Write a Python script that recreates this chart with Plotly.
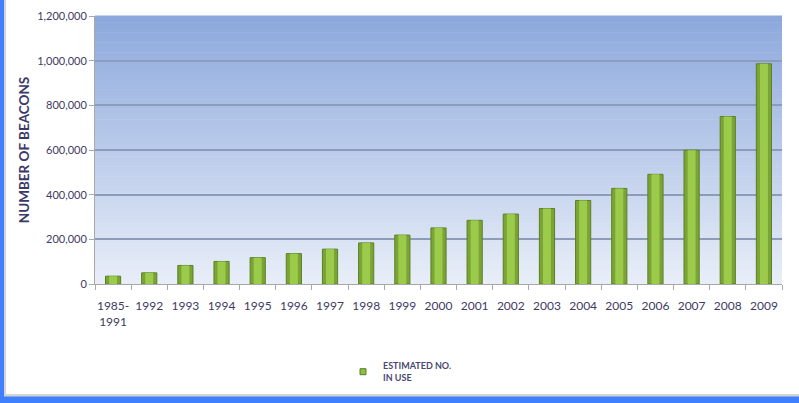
import plotly.graph_objects as go

categories = ["1985-<br>1991", "1992", "1993", "1994", "1995", "1996", "1997", "1998", "1999",
              "2000", "2001", "2002", "2003", "2004", "2005", "2006", "2007", "2008", "2009"]
beacons = [35000, 50000, 83000, 101000, 118000, 136000, 156000, 184000, 219000,
           251000, 285000, 313000, 338000, 374000, 428000, 491000, 599000, 750000, 986000]
y_ticks = [0, 200000, 400000, 600000, 800000, 1000000, 1200000]
y_tick_text = ["0", "200,000", "400,000", "600,000", "800,000", "1,000,000", "1,200,000"]
series_name = "<b>ESTIMATED NO.<br>IN USE</b>"

W, H = 799, 403
ML, MR, MT, MB = 95, 17, 16, 119
pw, ph = W - ML - MR, H - MT - MB

fig = go.Figure()
fig.add_trace(go.Bar(x=categories, y=beacons, width=0.42,
                     marker=dict(color="#7aa535", line=dict(color="#5c7f27", width=1)),
                     showlegend=False, hoverinfo="x+y"))
fig.add_trace(go.Bar(x=categories, y=beacons, width=0.22,
                     marker=dict(color="#9ccb4c", line=dict(width=0)),
                     showlegend=False, hoverinfo="skip"))
fig.add_trace(go.Scatter(x=[None], y=[None], mode="markers", name=series_name,
                         marker=dict(symbol="square", size=6, color="#8cbf3f",
                                     line=dict(color="#5c7f27", width=1))))

shapes = []
# gradient background of plot area
n = 80
top = (140, 168, 220)
bot = (232, 238, 248)
for i in range(n):
    t = i / (n - 1)
    c = tuple(int(round(top[k] + (bot[k] - top[k]) * t)) for k in range(3))
    shapes.append(dict(type="rect", xref="x domain", yref="y domain", layer="below",
                       x0=0, x1=1, y0=1 - (i + 1) / n, y1=1 - i / n + 0.002,
                       fillcolor="rgb(%d,%d,%d)" % c, line=dict(width=0)))
# blue frame of the slide (left and bottom)
def px_x(p):
    return (p - ML) / pw
def px_y(p):
    return (H - MB - p) / ph
shapes.append(dict(type="rect", xref="paper", yref="paper", x0=px_x(0), x1=px_x(4),
                   y0=px_y(403), y1=px_y(0), fillcolor="#3f80ff", line=dict(width=0)))
shapes.append(dict(type="rect", xref="paper", yref="paper", x0=px_x(4), x1=px_x(6),
                   y0=px_y(396), y1=px_y(0), fillcolor="#d4d4d4", line=dict(width=0)))
shapes.append(dict(type="rect", xref="paper", yref="paper", x0=px_x(4), x1=px_x(799),
                   y0=px_y(397), y1=px_y(394), fillcolor="#d4d4d4", line=dict(width=0)))
shapes.append(dict(type="rect", xref="paper", yref="paper", x0=px_x(0), x1=px_x(799),
                   y0=px_y(403), y1=px_y(396.5), fillcolor="#3f80ff", line=dict(width=0)))

font_col = "#3e3a62"
fig.update_layout(
    width=W, height=H,
    margin=dict(l=ML, r=MR, t=MT, b=MB),
    paper_bgcolor="white", plot_bgcolor="rgba(0,0,0,0)",
    barmode="overlay",
    font=dict(family="Lato, Open Sans, sans-serif", color=font_col, size=11),
    shapes=shapes,
    xaxis=dict(showgrid=False, ticks="outside", tickson="boundaries", ticklen=5,
               tickcolor="#a8a8a8", showline=True, linecolor="#a8a8a8", linewidth=1,
               tickangle=0, automargin=False, ticklabelstandoff=11,
               tickfont=dict(size=12, color=font_col), fixedrange=True),
    yaxis=dict(range=[0, 1200000], tickvals=y_ticks, ticktext=y_tick_text,
               showgrid=True, gridcolor="#8d9cb8", gridwidth=1.5,
               ticks="outside", ticklen=5, tickcolor="#a8a8a8",
               showline=True, linecolor="#a8a8a8", linewidth=1,
               tickfont=dict(size=11, color=font_col), zeroline=False,
               automargin=False,
               title=dict(text="<b>NUMBER OF BEACONS</b>", standoff=4,
                          font=dict(size=13.5, color="#3a3868"))),
    legend=dict(x=px_x(343), y=px_y(372), xanchor="left", yanchor="middle",
                bgcolor="rgba(0,0,0,0)", itemwidth=30,
                font=dict(size=9, color="#4a4870")),
    showlegend=True,
)

fig.write_html("out.html")
